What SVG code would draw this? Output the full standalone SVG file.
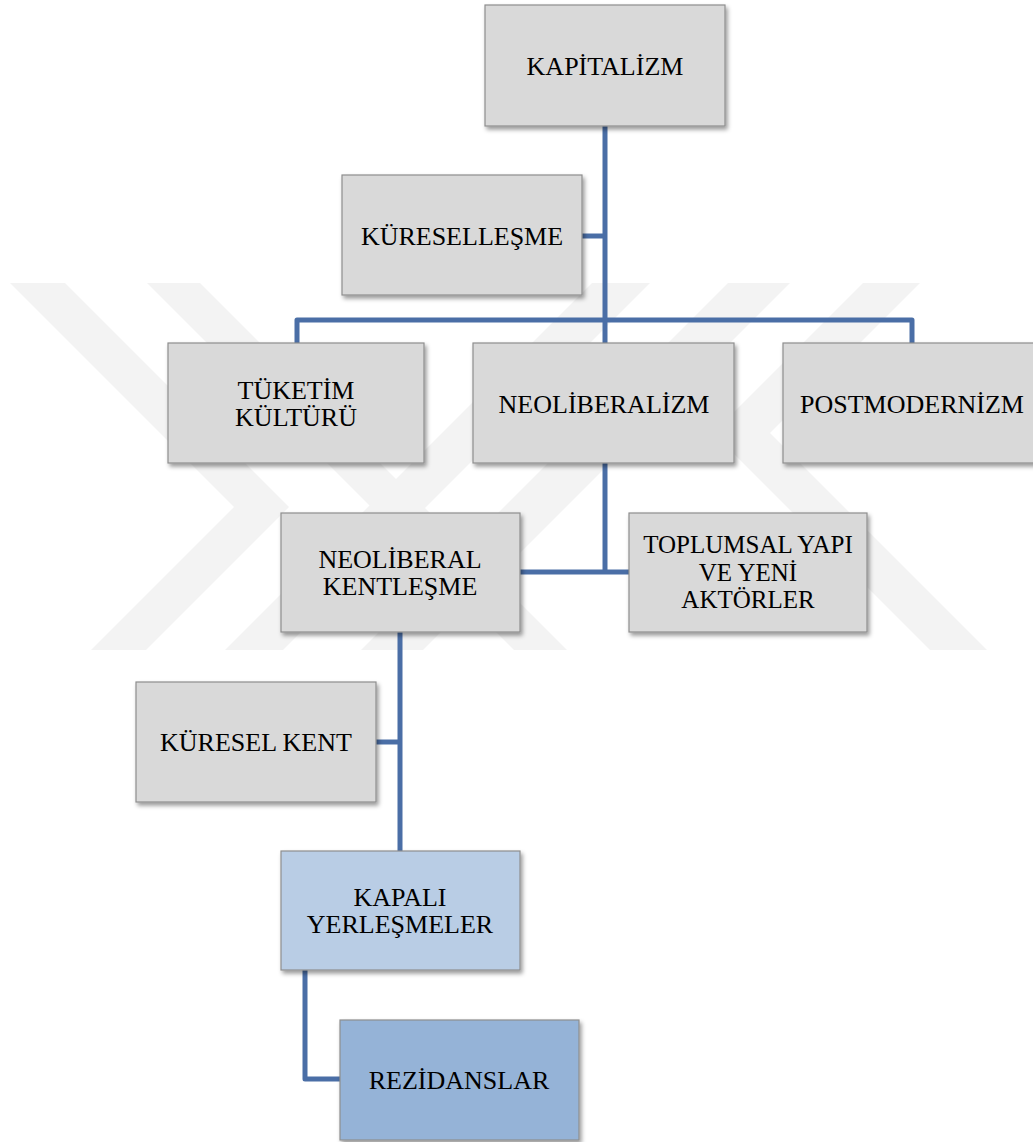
<svg xmlns="http://www.w3.org/2000/svg" width="1033" height="1142" viewBox="0 0 1033 1142">
<defs>
<style>
.wm{fill:#f3f3f3;}
.box{fill:#d9d9d9;stroke:#8e8e8e;stroke-width:1.2;filter:url(#sh);}
.b1{fill:#b9cde5;}
.b2{fill:#95b3d7;}
.lbl{font-family:"Liberation Serif","Times New Roman",serif;font-size:26px;fill:#000;text-anchor:middle;}
.con{fill:none;stroke:#4a6ea6;stroke-width:5;stroke-linejoin:round;stroke-linecap:butt;}
</style>
<filter id="sh" x="-10%" y="-10%" width="125%" height="130%">
<feDropShadow dx="2" dy="3" stdDeviation="2" flood-color="#000" flood-opacity="0.4"/>
</filter>
</defs>
<rect width="1033" height="1142" fill="#ffffff"/>
<g id="watermark">
<polygon class="wm" points="10,283 65,283 289,507 146,650 91,650 234,507"/>
<polygon class="wm" points="147,283 200,283 567,650 514,650"/>
<polygon class="wm" points="592,283 650,283 283,650 225,650"/>
<polygon class="wm" points="728,283 790,283 423,650 361,650"/>
<polygon class="wm" points="863,283 920,283 770,433 987,650 930,650 713,433"/>
</g>
<g id="connectors">
<path class="con" d="M605,126 V343"/>
<path class="con" d="M582,236 H605"/>
<path class="con" d="M297,343 V320 H912 V343"/>
<path class="con" d="M605,463 V572"/>
<path class="con" d="M520,572 H629"/>
<path class="con" d="M400,632 V851"/>
<path class="con" d="M376,742 H400"/>
<path class="con" d="M305,970 V1079 H340"/>
</g>
<g id="n-kapitalizm">
<rect class="box" x="485" y="5" width="240" height="121"/>
<text class="lbl" x="605" y="75">KAPİTALİZM</text>
</g>
<g id="n-kuresellesme">
<rect class="box" x="342" y="175" width="240" height="120"/>
<text class="lbl" x="462" y="245">KÜRESELLEŞME</text>
</g>
<g id="n-tuketim">
<rect class="box" x="168" y="343" width="256" height="120"/>
<text class="lbl" x="296" y="399">TÜKETİM</text>
<text class="lbl" x="296" y="426">KÜLTÜRÜ</text>
</g>
<g id="n-neoliberalizm">
<rect class="box" x="473" y="343" width="261" height="120"/>
<text class="lbl" x="604" y="413">NEOLİBERALİZM</text>
</g>
<g id="n-postmodernizm">
<rect class="box" x="783" y="343" width="258" height="120"/>
<text class="lbl" x="912" y="413">POSTMODERNİZM</text>
</g>
<g id="n-neoliberal-kentlesme">
<rect class="box" x="281" y="513" width="239" height="119"/>
<text class="lbl" x="400" y="568">NEOLİBERAL</text>
<text class="lbl" x="400" y="595">KENTLEŞME</text>
</g>
<g id="n-toplumsal">
<rect class="box" x="629" y="513" width="238" height="119"/>
<text class="lbl" x="748" y="553" style="font-size:25px">TOPLUMSAL YAPI</text>
<text class="lbl" x="748" y="581" style="font-size:25px">VE YENİ</text>
<text class="lbl" x="748" y="608" style="font-size:25px">AKTÖRLER</text>
</g>
<g id="n-kuresel-kent">
<rect class="box" x="136" y="682" width="240" height="120"/>
<text class="lbl" x="256" y="751">KÜRESEL KENT</text>
</g>
<g id="n-kapali">
<rect class="box b1" x="281" y="851" width="239" height="119"/>
<text class="lbl" x="400" y="906">KAPALI</text>
<text class="lbl" x="400" y="933">YERLEŞMELER</text>
</g>
<g id="n-rezidanslar">
<rect class="box b2" x="340" y="1020" width="239" height="120"/>
<text class="lbl" x="459" y="1089">REZİDANSLAR</text>
</g>
</svg>
